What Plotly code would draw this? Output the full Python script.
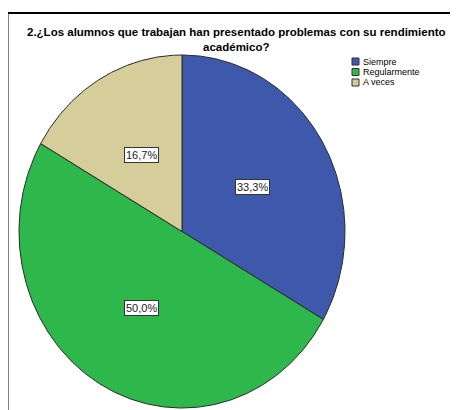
import numpy as np
import plotly.graph_objects as go

# ---- data ----
categories = ["Siempre", "Regularmente", "A veces"]
values = [33.3, 50.0, 16.7]          # percent
value_labels = ["33,3%", "50,0%", "16,7%"]
colors = ["#3E58AC", "#2EB84B", "#D5CD9A"]
title_text = "2.¿Los alumnos que trabajan han presentado problemas con su rendimiento<br>académico?"

# ---- layout geometry (page pixels; page body has an 8px margin) ----
OFF = 8
PW, PH = 458, 410
W, H = PW - OFF, PH - OFF           # figure size that fills the window
CX, CY = 182.0 - OFF, 231.5 - OFF   # pie centre in figure pixels
RX, RY = 163.0, 176.5               # pie radii (SPSS-stretched ellipse)
xmin, xmax = -CX / RX, (W - CX) / RX
ymax, ymin = CY / RY, -(H - CY) / RY
FONT = "Liberation Sans, Arial, sans-serif"

def px(x):
    return (x - OFF) / W

def py(y):
    return 1 - (y - OFF) / H

fig = go.Figure()
total = sum(values)
start = 0.0
for cat, v, lab, col in zip(categories, values, value_labels, colors):
    a0 = start / total * 2 * np.pi
    a1 = (start + v) / total * 2 * np.pi
    t = np.linspace(a0, a1, 240)
    xs = np.concatenate([[0], np.sin(t), [0]])
    ys = np.concatenate([[0], np.cos(t), [0]])
    fig.add_trace(go.Scatter(x=xs, y=ys, mode="lines", fill="toself",
                             fillcolor=col, line=dict(color="#2a2a2a", width=1),
                             name=cat, showlegend=False, hoverinfo="name"))
    mid = (a0 + a1) / 2
    fig.add_annotation(x=0.5 * np.sin(mid), y=0.5 * np.cos(mid), text=lab,
                       showarrow=False, bgcolor="white", bordercolor="#333333",
                       borderwidth=1, borderpad=1,
                       font=dict(family=FONT, size=11, color="#222222"))
    start += v

# title
fig.add_annotation(xref="paper", yref="paper", x=px(236), y=py(39), text=title_text,
                   showarrow=False, xanchor="center", yanchor="middle",
                   font=dict(family=FONT, size=11.5, color="#000000", weight="bold"))

# legend (manual, compact like SPSS)
shapes = []
for i, (cat, col) in enumerate(zip(categories, colors)):
    yc = 61.5 + i * 10.5
    shapes.append(dict(type="rect", xref="paper", yref="paper",
                       x0=px(352), x1=px(359), y0=py(yc - 3.5), y1=py(yc + 3.5),
                       fillcolor=col, line=dict(color="#333333", width=1)))
    fig.add_annotation(xref="paper", yref="paper", x=px(361), y=py(yc), text=cat,
                       showarrow=False, xanchor="left", yanchor="middle",
                       font=dict(family=FONT, size=9, color="#000000"))

# frame
shapes.append(dict(type="path", xref="paper", yref="paper",
                   path=f"M {px(7.5)} {py(PH + 20)} L {px(7.5)} {py(13)} L {px(PW + 20)} {py(13)}",
                   line=dict(color="black", width=2)))

fig.update_layout(
    width=W, height=H, margin=dict(l=0, r=0, t=0, b=0),
    paper_bgcolor="white", plot_bgcolor="white",
    xaxis=dict(range=[xmin, xmax], visible=False, fixedrange=True),
    yaxis=dict(range=[ymin, ymax], visible=False, fixedrange=True),
    shapes=shapes, showlegend=False,
)
fig.write_html("out.html")
